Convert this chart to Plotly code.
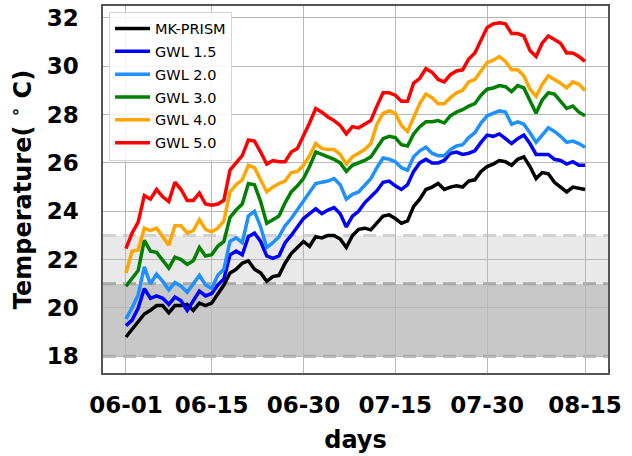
import pandas as pd
import plotly.graph_objects as go

dates = pd.date_range("2020-06-01", "2020-08-15", freq="D")

mk_prism = [18.8, 19.1, 19.45, 19.75, 19.9, 20.1, 20.1, 19.8, 20.1, 20.1, 20.15, 19.9, 20.2, 20.1, 20.2, 20.6, 20.95, 21.45, 21.6, 21.85,
            21.95, 21.6, 21.45, 21.1, 21.3, 21.35, 21.85, 22.25, 22.5, 22.75, 22.55, 22.95, 22.9, 23.0, 23.0, 22.85, 22.5, 23.0, 23.25, 23.3,
            23.23, 23.5, 23.8, 23.85, 23.7, 23.5, 23.6, 24.2, 24.5, 24.9, 25.0, 25.15, 24.9, 25.0, 25.05, 25.0, 25.25, 25.3, 25.65, 25.85,
            25.95, 26.1, 26.05, 25.9, 26.15, 26.25, 25.85, 25.35, 25.6, 25.55, 25.2, 25.0, 24.8, 25.0, 24.95, 24.9]
gwl_15 = [19.27, 19.5, 20.0, 20.8, 20.4, 20.5, 20.4, 20.15, 20.45, 20.3, 19.9, 20.3, 20.7, 20.5, 20.6, 20.95, 21.2, 22.2, 22.35, 22.2,
          22.95, 23.1, 22.75, 22.15, 22.05, 22.15, 22.7, 23.0, 23.35, 23.7, 23.9, 24.1, 23.9, 24.05, 24.15, 23.9, 23.35, 23.8, 24.0, 24.35,
          24.6, 24.85, 25.2, 25.25, 25.05, 24.9, 25.1, 25.65, 26.0, 26.15, 26.0, 26.0, 26.1, 26.4, 26.45, 26.35, 26.4, 26.5, 26.85, 27.15,
          27.1, 27.2, 27.0, 26.8, 27.0, 27.15, 26.8, 26.35, 26.35, 26.35, 26.15, 26.1, 25.95, 26.05, 25.9, 25.9]
gwl_20 = [19.55, 20.0, 20.55, 21.7, 21.0, 21.4, 21.1, 20.75, 21.05, 20.9, 20.65, 21.0, 21.35, 20.95, 20.8, 21.35, 21.6, 22.75, 22.9, 22.7,
          23.8, 24.0, 23.35, 22.5, 22.7, 22.95, 23.4, 23.7, 24.05, 24.4, 24.75, 25.15, 25.2, 25.25, 25.35, 25.1, 24.5, 24.7, 24.8, 25.1,
          25.35, 25.8, 26.2, 26.15, 26.05, 25.8, 25.7, 26.25, 26.5, 26.65, 26.4, 26.3, 26.3, 26.55, 26.7, 26.75, 27.05, 27.25, 27.65, 27.95,
          28.05, 28.15, 28.1, 27.6, 27.7, 27.6, 27.25, 26.85, 27.15, 27.45, 27.3, 27.1, 26.85, 26.9, 26.8, 26.65]
gwl_30 = [20.9, 21.2, 21.55, 22.8, 22.35, 22.3, 22.0, 21.65, 22.1, 22.0, 21.8, 21.95, 22.5, 22.15, 22.2, 22.55, 22.75, 23.75, 24.05, 24.3,
          25.15, 25.1, 24.4, 23.5, 23.65, 23.8, 24.35, 24.8, 25.05, 25.35, 25.85, 26.45, 26.35, 26.25, 26.15, 26.0, 25.65, 25.9, 26.0, 26.1,
          26.25, 26.65, 27.0, 27.1, 27.05, 26.75, 26.7, 27.2, 27.5, 27.7, 27.7, 27.75, 27.65, 27.95, 28.1, 28.2, 28.35, 28.45, 28.8, 29.05,
          29.1, 29.2, 29.15, 28.95, 29.2, 29.1, 28.6, 28.05, 28.6, 28.9, 28.85, 28.55, 28.25, 28.35, 28.1, 27.95]
gwl_40 = [21.45, 22.35, 22.4, 23.3, 23.2, 23.3, 22.95, 22.6, 23.4, 23.4, 23.1, 23.2, 23.65, 23.25, 23.15, 23.3, 23.6, 24.8, 25.1, 25.3,
          25.9, 25.8, 25.3, 24.8, 25.0, 25.15, 25.25, 25.6, 25.65, 25.9, 26.3, 26.8, 26.6, 26.55, 26.55, 26.35, 25.95, 26.25, 26.4, 26.55,
          26.8, 27.6, 28.05, 28.15, 28.05, 27.55, 27.3, 27.9, 28.45, 28.85, 28.7, 28.45, 28.45, 28.7, 28.9, 29.0, 29.35, 29.45, 29.8, 30.15,
          30.25, 30.4, 30.2, 29.85, 29.85, 29.6, 29.05, 28.75, 29.25, 29.6, 29.45, 29.3, 29.1, 29.35, 29.25, 29.0]
gwl_50 = [22.45, 23.1, 23.55, 24.65, 24.5, 24.9, 24.6, 24.4, 25.2, 24.9, 24.45, 24.45, 24.75, 24.3, 24.25, 24.3, 24.45, 25.7, 26.0, 26.3,
          26.95, 26.9, 26.45, 25.95, 26.1, 26.05, 26.05, 26.45, 26.6, 27.1, 27.65, 28.25, 28.1, 27.9, 27.75, 27.55, 27.2, 27.5, 27.45, 27.6,
          27.75, 28.35, 28.9, 28.9, 28.8, 28.55, 28.55, 29.3, 29.5, 29.9, 29.75, 29.45, 29.35, 29.65, 29.8, 29.85, 30.3, 30.55, 31.1, 31.6,
          31.75, 31.8, 31.75, 31.35, 31.35, 31.25, 30.65, 30.4, 30.95, 31.25, 31.1, 30.95, 30.55, 30.55, 30.4, 30.2]

series_names = ["MK-PRISM", "GWL 1.5", "GWL 2.0", "GWL 3.0", "GWL 4.0", "GWL 5.0"]
series_values = [mk_prism, gwl_15, gwl_20, gwl_30, gwl_40, gwl_50]
series_colors = ["#000000", "#0000ff", "#1e90ff", "#008000", "#ffa500", "#ff0000"]

x_tick_labels = ["06-01", "06-15", "06-30", "07-15", "07-30", "08-15"]
x_tick_dates = [pd.Timestamp("2020-" + t) for t in x_tick_labels]
y_ticks = [18, 20, 22, 24, 26, 28, 30, 32]

band_dark = (18, 21)
band_light = (21, 23)

fig = go.Figure()
for i, (name, vals, col) in enumerate(zip(series_names, series_values, series_colors)):
    fig.add_trace(go.Scatter(x=dates, y=vals, mode="lines", name=name,
                             line=dict(color=col, width=3.5), legendgroup=f"g{i}"))

# shaded bands
fig.add_shape(type="rect", xref="paper", x0=0, x1=1, y0=band_dark[0], y1=band_dark[1],
              fillcolor="#c8c8c8", line_width=0, layer="below")
fig.add_shape(type="rect", xref="paper", x0=0, x1=1, y0=band_light[0], y1=band_light[1],
              fillcolor="#e9e9e9", line_width=0, layer="below")
for yv, col in [(band_dark[0], "#a8a8a8"), (band_dark[1], "#a8a8a8"), (band_light[1], "#d2d2d2")]:
    fig.add_shape(type="line", xref="paper", x0=0, x1=1, y0=yv, y1=yv,
                  line=dict(color=col, width=3, dash="13px,7px"), layer="between")

tickfont = dict(family="DejaVu Sans", size=23, color="black", weight="bold")
titlefont = dict(family="DejaVu Sans", size=24, color="black", weight="bold")
fig.update_layout(
    width=632, height=456,
    margin=dict(l=103, r=24, t=6, b=83),
    paper_bgcolor="white", plot_bgcolor="white",
    font=dict(family="DejaVu Sans", color="black"),
    showlegend=True,
    legend=dict(x=0.012, y=0.985, xanchor="left", yanchor="top",
                font=dict(family="DejaVu Sans", size=14.5, color="black"),
                bgcolor="rgba(255,255,255,0.85)", bordercolor="#d5d5d5", borderwidth=1,
                tracegroupgap=1, itemwidth=35),
    xaxis=dict(range=[pd.Timestamp("2020-05-28 06:00"), pd.Timestamp("2020-08-18 18:00")],
               tickvals=x_tick_dates, ticktext=x_tick_labels, tickfont=tickfont,
               showgrid=True, gridcolor="#b8b8b8", gridwidth=1, automargin=False,
               ticks="outside", ticklen=11, tickcolor="rgba(0,0,0,0)",
               showline=True, linecolor="#555555", linewidth=1.5, mirror=True, zeroline=False,
               title=dict(text="days", font=titlefont, standoff=14)),
    yaxis=dict(range=[17.31, 32.49], tickvals=y_ticks, tickfont=tickfont,
               showgrid=True, gridcolor="#b8b8b8", gridwidth=1, automargin=False,
               ticks="outside", ticklen=18, tickcolor="rgba(0,0,0,0)",
               showline=True, linecolor="#555555", linewidth=1.5, mirror=True, zeroline=False,
               title=dict(text="Temperature( <sup>∘</sup> C)", font=titlefont, standoff=8)),
)

fig.write_html("out.html", config={"displayModeBar": False},
               post_script="document.body.style.margin='0';document.body.style.overflow='hidden';")
